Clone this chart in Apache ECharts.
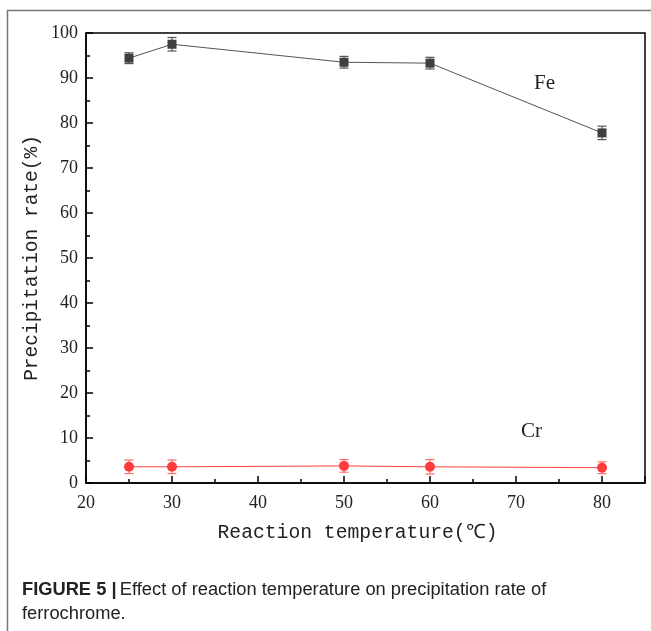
<!DOCTYPE html>
<html><head><meta charset="utf-8">
<script src="https://cdn.jsdelivr.net/npm/echarts@6/dist/echarts.min.js"></script>
<style>html,body{margin:0;padding:0;background:#fff}#c{width:651px;height:631px}</style>
</head><body><div id="c"></div>
<script>
const temps = [25, 30, 50, 60, 80];
const feRate = [94.4, 97.5, 93.5, 93.3, 77.8];
const feErr = [1.2, 1.5, 1.3, 1.3, 1.5];
const crRate = [3.6, 3.6, 3.8, 3.6, 3.4];
const crErr = [1.5, 1.5, 1.4, 1.6, 1.3];
const xTicks = [20, 30, 40, 50, 60, 70, 80];
const yTicks = [0, 10, 20, 30, 40, 50, 60, 70, 80, 90, 100];

const chart = echarts.init(document.getElementById('c'));
function pts(v){ return temps.map((t,i)=>[t, v[i]]); }
function errData(v,e){ return temps.map((t,i)=>[t, v[i]-e[i], v[i]+e[i]]); }
function errSeries(v,e,color){
  return {
    type:'custom', z:3,
    data: errData(v,e),
    renderItem:function(params, api){
      const x = api.value(0);
      const lo = api.coord([x, api.value(1)]);
      const hi = api.coord([x, api.value(2)]);
      const w = 4.5;
      const st = {stroke:color, lineWidth:1.2};
      return {type:'group', children:[
        {type:'line', shape:{x1:lo[0],y1:lo[1],x2:hi[0],y2:hi[1]}, style:st},
        {type:'line', shape:{x1:lo[0]-w,y1:lo[1],x2:lo[0]+w,y2:lo[1]}, style:st},
        {type:'line', shape:{x1:hi[0]-w,y1:hi[1],x2:hi[0]+w,y2:hi[1]}, style:st}
      ]};
    }
  };
}
const serif = 'Liberation Serif';
const mono = 'Liberation Mono';
chart.setOption({
  animation:false,
  backgroundColor:'#fff',
  grid:{left:86, right:6, top:33, bottom:148, show:true, borderColor:'#000', borderWidth:1.5},
  xAxis:{
    type:'value', min:20, max:85, interval:10,
    name:'Reaction temperature(\u2103)', nameLocation:'middle', nameGap:40,
    nameTextStyle:{fontFamily:mono, fontSize:19.7, color:'#222', padding:[0,16,0,0]},
    axisLine:{lineStyle:{color:'#000', width:1.5}},
    axisTick:{inside:true, length:7, lineStyle:{color:'#000', width:1.5}},
    minorTick:{show:true, splitNumber:2, length:4, lineStyle:{color:'#000', width:1.5}},
    axisLabel:{fontFamily:serif, fontSize:18, color:'#222', margin:11, showMaxLabel:false,
      formatter:function(v){ return xTicks.indexOf(v)>=0 ? String(v) : ''; }},
    splitLine:{show:false}
  },
  yAxis:{
    type:'value', min:0, max:100, interval:10,
    name:'Precipitation rate(%)', nameLocation:'middle', nameGap:44, nameMoveOverlap:false,
    nameTextStyle:{fontFamily:mono, fontSize:19.5, color:'#222'},
    axisLine:{lineStyle:{color:'#000', width:1.5}},
    axisTick:{inside:true, length:7, lineStyle:{color:'#000', width:1.5}},
    minorTick:{show:true, splitNumber:2, length:4, lineStyle:{color:'#000', width:1.5}},
    axisLabel:{fontFamily:serif, fontSize:18, color:'#222', margin:8,
      formatter:function(v){ return yTicks.indexOf(v)>=0 ? String(v) : ''; }},
    splitLine:{show:false}
  },
  series:[
    {type:'line', name:'Fe', data:pts(feRate), symbol:'rect', symbolSize:9, z:4,
      lineStyle:{color:'#555', width:1}, itemStyle:{color:'#3f3f3f'}},
    errSeries(feRate, feErr, '#555'),
    {type:'line', name:'Cr', data:pts(crRate), symbol:'circle', symbolSize:10, z:4,
      lineStyle:{color:'#ff4040', width:1}, itemStyle:{color:'#ff3b3b'}},
    errSeries(crRate, crErr, '#ff6a6a')
  ],
  graphic:[
    {type:'line', shape:{x1:7,y1:10.5,x2:651,y2:10.5}, style:{stroke:'#777', lineWidth:1.5}},
    {type:'line', shape:{x1:7.5,y1:10,x2:7.5,y2:631}, style:{stroke:'#777', lineWidth:1.5}},
    {type:'text', left:534, top:73, style:{text:'Fe', font:'21px "Liberation Serif"', fill:'#222'}},
    {type:'text', left:521, top:421, style:{text:'Cr', font:'21px "Liberation Serif"', fill:'#222'}},
    {type:'text', left:22, top:581, style:{rich:{b:{fontFamily:'Liberation Sans', fontWeight:'bold', fontSize:18.3, fill:'#222'}, n:{fontFamily:'Liberation Sans', fontSize:18.3, fill:'#222'}}, text:'{b|FIGURE 5 |} {n|Effect of reaction temperature on precipitation rate of}'}},
    {type:'text', left:22, top:605, style:{text:'ferrochrome.', font:'18.3px "Liberation Sans"', fill:'#222'}}
  ]
});
</script></body></html>
